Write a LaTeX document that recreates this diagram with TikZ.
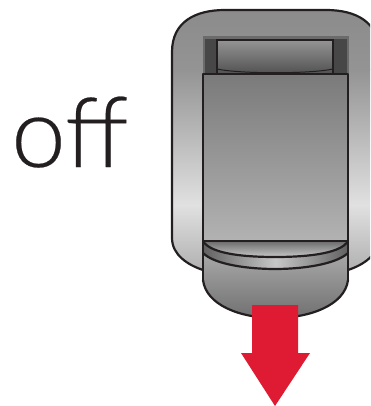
\documentclass[tikz,border=0pt]{standalone}
\usepackage{fontspec}
\setmainfont{Lato}[UprightFont=* Light,FakeBold=0.25]
\definecolor{ink}{HTML}{231F20}
\definecolor{arrowred}{HTML}{DF1B33}
\tikzset{
  x=1pt,y=-1pt,
  outline/.style={draw=ink,line width=2.2pt,line join=round},
  label/.style={inner sep=0pt,anchor=base west,font=\fontsize{98}{98}\selectfont,text=ink}
}
\begin{document}
\begin{tikzpicture}
\useasboundingbox (0,0) rectangle (370,406);
% housing
\begin{scope}
\clip (0,0) rectangle (370,406);
\begin{scope}
\path[clip] (172,52) .. controls (172,22) and (195,10) .. (225,10) -- (326,10) .. controls (356,10) and (379,22) .. (379,52) -- (379,238) .. controls (379,255) and (363,265) .. (348,270) -- (203,270) .. controls (188,265) and (172,255) .. (172,238) -- cycle;
\shade[top color=black!46,bottom color=black!42] (160,0) rectangle (380,70);
\shade[top color=black!42,bottom color=black!12] (160,70) rectangle (380,205);
\shade[top color=black!12,bottom color=black!32] (160,205) rectangle (380,275);
\end{scope}
\draw[outline] (203,270) .. controls (188,265) and (172,255) .. (172,238) -- (172,52) .. controls (172,22) and (195,10) .. (225,10) -- (326,10) .. controls (356,10) and (379,22) .. (379,52) -- (379,238) .. controls (379,255) and (363,265) .. (348,270);
\end{scope}
% slot
\fill[black!58] (203,36) rectangle (349,74);
\fill[black!72] (205,39) rectangle (347,74);
\shade[top color=black!42,bottom color=black!68,draw=ink,line width=2pt] (217,40) -- (333,40) -- (333,74) -- (217,74) -- cycle;
\draw[ink,line width=1pt] (217,69) .. controls (240,74) and (310,74) .. (333,69);
% slider
\shade[top color=black!52,bottom color=black!30] (203,74) rectangle (348,241);
\shade[top color=black!30,bottom color=black!56] (203,241) -- (348,241) -- (348,280) .. controls (345,305) and (310,318) .. (275,318) .. controls (240,318) and (206,305) .. (203,280) -- cycle;
\shade[left color=black!62,right color=black!62,middle color=black!22] (203,241) -- (348,241) -- (348,253) .. controls (335,265) and (300,269) .. (275,269) .. controls (250,269) and (215,265) .. (203,253) -- cycle;
\shade[top color=black!58,bottom color=black!22] (203,241) -- (348,241) .. controls (340,255) and (300,257) .. (275,257) .. controls (250,257) and (211,255) .. (203,241) -- cycle;
\draw[outline] (203,280) -- (203,74) -- (348,74) -- (348,280);
\draw[outline] (203,280) .. controls (206,305) and (240,318) .. (275,318) .. controls (310,318) and (345,305) .. (348,280);
\draw[outline] (203,241) -- (348,241);
\draw[outline] (203,241) .. controls (211,255) and (250,257) .. (275,257) .. controls (300,257) and (340,255) .. (348,241);
\draw[outline] (203,253) .. controls (215,265) and (250,269) .. (275,269) .. controls (300,269) and (335,265) .. (348,253);
% arrow
\fill[arrowred] (252,305) -- (298,305) -- (298,353) -- (310,353) -- (275,406) -- (241,353) -- (252,353) -- cycle;
% word
\node[label] (word) at (11,167) {off};
\end{tikzpicture}
\end{document}
